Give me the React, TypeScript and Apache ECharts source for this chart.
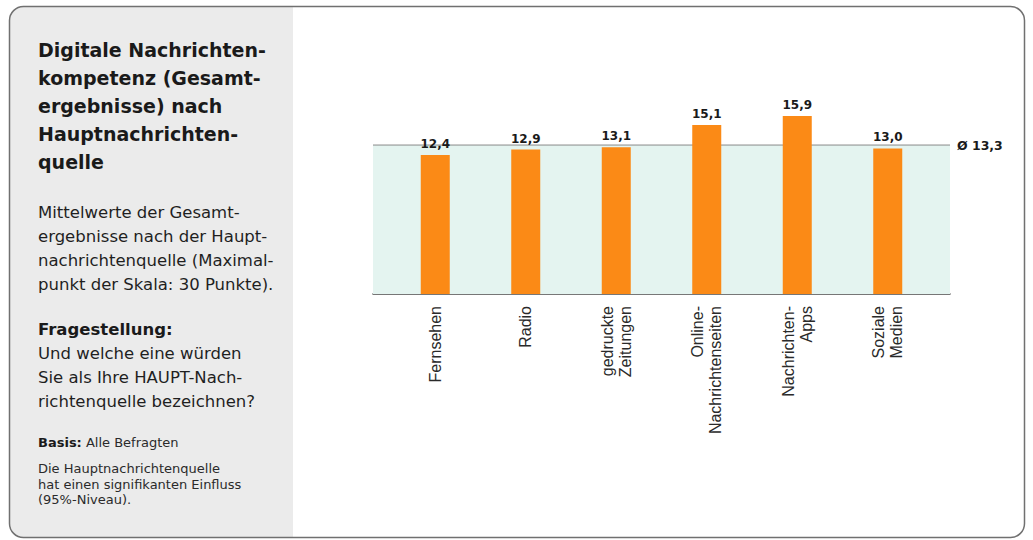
import React, { useEffect, useRef } from "react";
import * as echarts from "echarts";

const categories = [
  "Fernsehen",
  "Radio",
  "gedruckte\nZeitungen",
  "Online-\nNachrichtenseiten",
  "Nachrichten-\nApps",
  "Soziale\nMedien",
];
const values = [12.4, 12.9, 13.1, 15.1, 15.9, 13.0];
const average = 13.3;
const avgLabel = "Ø 13,3";

const titleLines = [
  "Digitale Nachrichten-",
  "kompetenz (Gesamt-",
  "ergebnisse) nach",
  "Hauptnachrichten-",
  "quelle",
];
const subtitleLines = [
  "Mittelwerte der Gesamt-",
  "ergebnisse nach der Haupt-",
  "nachrichtenquelle (Maximal-",
  "punkt der Skala: 30 Punkte).",
];
const questionHead = "Fragestellung:";
const questionLines = [
  "Und welche eine würden",
  "Sie als Ihre HAUPT-Nach-",
  "richtenquelle bezeichnen?",
];
const basisHead = "Basis:";
const basisText = "Alle Befragten";
const noteLines = [
  "Die Hauptnachrichtenquelle",
  "hat einen signifikanten Einfluss",
  "(95%-Niveau).",
];

const FONT = "'DejaVu Sans', 'Noto Sans', sans-serif";
const fmt = (v: number) => v.toFixed(1).replace(".", ",");

export default function App() {
  const ref = useRef<HTMLDivElement>(null);
  useEffect(() => {
    if (!ref.current) return;
    const chart = echarts.init(ref.current, undefined, { renderer: "svg" });
    const top = 70;
    const bottom = 246;
    chart.setOption({
      animation: false,
      backgroundColor: "#ffffff",
      textStyle: { fontFamily: FONT },
      grid: [
        { left: 373, right: 83, top, bottom },
        { left: 390, right: 100, top, bottom },
      ],
      xAxis: [
        {
          gridIndex: 0,
          type: "category",
          data: ["a", "b"],
          boundaryGap: false,
          axisLine: { show: true, lineStyle: { color: "#4a4a4a", width: 1.5 } },
          axisTick: { show: false },
          axisLabel: { show: false },
          splitLine: { show: false },
        },
        {
          gridIndex: 1,
          type: "category",
          data: categories,
          axisLine: { show: false },
          axisTick: { show: false },
          axisLabel: {
            rotate: 90,
            margin: 12,
            fontSize: 16,
            lineHeight: 18,
            color: "#2a2a2a",
            fontFamily: "'Liberation Sans', Arial, sans-serif",
            interval: 0,
          },
        },
      ],
      yAxis: [
        { gridIndex: 0, type: "value", min: 0, max: 20, show: false },
        { gridIndex: 1, type: "value", min: 0, max: 20, show: false },
      ],
      series: [
        {
          type: "line",
          xAxisIndex: 0,
          yAxisIndex: 0,
          data: [average, average],
          symbol: "none",
          z: 1,
          lineStyle: { color: "#8a8a8a", width: 1 },
          areaStyle: { color: "#e4f4f0", opacity: 1 },
          endLabel: {
            show: true,
            formatter: avgLabel,
            distance: 7,
            fontSize: 12.5,
            fontWeight: "bold",
            color: "#1a1a1a",
            fontFamily: FONT,
          },
        },
        {
          type: "bar",
          xAxisIndex: 1,
          yAxisIndex: 1,
          data: values,
          barWidth: 29,
          z: 3,
          itemStyle: { color: "#fb8a16" },
          label: {
            show: true,
            position: "top",
            distance: 5,
            fontSize: 12,
            fontWeight: "bold",
            color: "#1a1a1a",
            fontFamily: FONT,
            formatter: (p: any) => fmt(p.value),
          },
        },
      ],
      graphic: [
        {
          type: "rect",
          z: -10,
          shape: { x: 10, y: 7, width: 283, height: 530, r: [14, 0, 0, 14] },
          style: { fill: "#ebebeb" },
        },
        {
          type: "rect",
          z: 10,
          shape: { x: 9.5, y: 6.5, width: 1015, height: 531, r: 14 },
          style: { fill: "none", stroke: "#707070", lineWidth: 1.5 },
        },
        {
          type: "text",
          x: 38,
          y: 36,
          style: {
            text: titleLines.join("\n"),
            font: `bold 19px ${FONT}`,
            lineHeight: 28,
            fill: "#1a1a1a",
            verticalAlign: "top",
          },
        },
        {
          type: "text",
          x: 38,
          y: 200,
          style: {
            text: subtitleLines.join("\n"),
            font: `16.5px ${FONT}`,
            lineHeight: 24,
            fill: "#1f1f1f",
            verticalAlign: "top",
          },
        },
        {
          type: "text",
          x: 38,
          y: 317,
          style: {
            text: questionHead,
            font: `bold 16.5px ${FONT}`,
            lineHeight: 24,
            fill: "#1a1a1a",
            verticalAlign: "top",
          },
        },
        {
          type: "text",
          x: 38,
          y: 341,
          style: {
            text: questionLines.join("\n"),
            font: `16.5px ${FONT}`,
            lineHeight: 24,
            fill: "#1f1f1f",
            verticalAlign: "top",
          },
        },
        {
          type: "text",
          x: 38,
          y: 435,
          style: {
            text: `{b|${basisHead}} ${basisText}`,
            font: `13px ${FONT}`,
            lineHeight: 15,
            fill: "#2a2a2a",
            verticalAlign: "top",
            rich: { b: { fontWeight: "bold", fontSize: 13, fill: "#1a1a1a", fontFamily: FONT } },
          },
        },
        {
          type: "text",
          x: 38,
          y: 461,
          style: {
            text: noteLines.join("\n"),
            font: `13px ${FONT}`,
            lineHeight: 15.5,
            fill: "#2a2a2a",
            verticalAlign: "top",
          },
        },
      ],
    });
    return () => chart.dispose();
  }, []);
  return (
    <div
      ref={ref}
      style={{ position: "absolute", left: 0, top: 0, width: 1033, height: 540 }}
    />
  );
}
